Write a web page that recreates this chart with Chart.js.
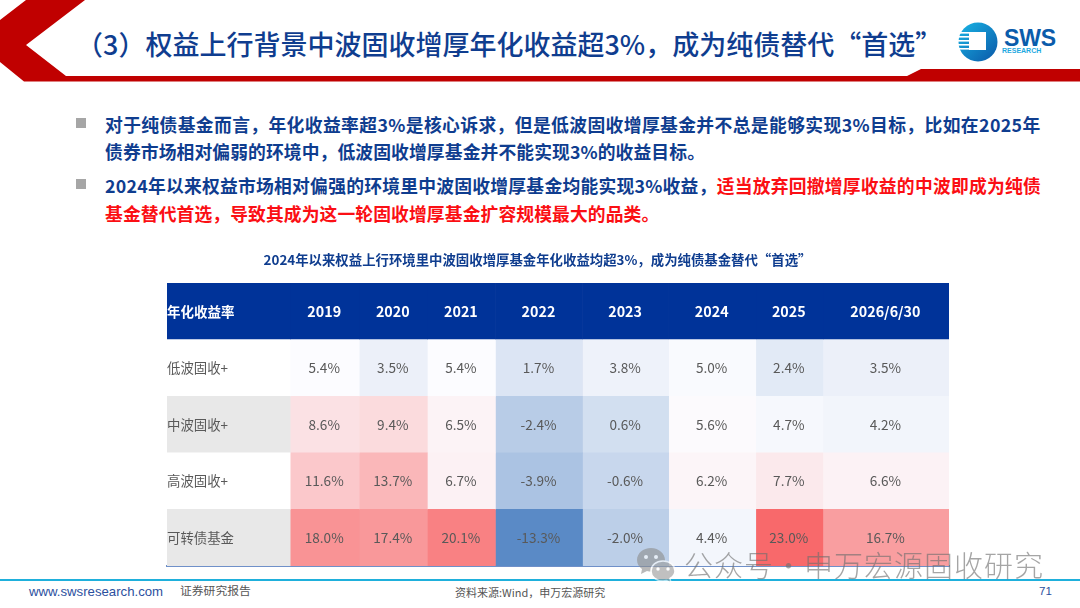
<!DOCTYPE html>
<html lang="zh-CN"><head><meta charset="utf-8">
<script src="https://cdn.jsdelivr.net/npm/chart.js@4"></script>
<style>
html,body{margin:0;padding:0;background:#fff;width:1080px;height:608px;overflow:hidden;font-family:"Noto Sans CJK SC","Noto Sans",sans-serif}
.abs{position:absolute;white-space:nowrap}
#chartWrap{position:absolute;left:0;top:245px;width:1080px;height:326px}
.body{left:105px;font-size:17.800px;font-weight:700;color:#0f3d8f;line-height:26px;letter-spacing:.1px}
.red{color:#fb0f14}
.sq{position:absolute;left:76px;width:10px;height:10px;background:#a6a6a6}
</style></head><body>
<svg class="abs" style="left:0;top:0" width="1080" height="90" viewBox="0 0 1080 90">
<polygon fill="#c00000" points="26,0 85,0 26,45 66,76 907,76 921,69 1080,69 1080,81.500 24,81.500 0,62 0,20"/>
</svg>
<div class="abs" id="mainTitle" style="left:76px;top:25px;font-size:27px;line-height:38px;color:#0f3d8f;font-weight:500">（3）权益上行背景中波固收增厚年化收益超3%，成为纯债替代“首选”</div>
<svg class="abs" style="left:957px;top:21px" width="42" height="42" viewBox="0 0 42 42">
<defs><linearGradient id="g" x1="0" y1="0" x2="1" y2="1"><stop offset="0" stop-color="#19b5e5"/><stop offset="1" stop-color="#0a57a8"/></linearGradient></defs>
<circle cx="21" cy="21" r="19.500" fill="url(#g)"/>
<g fill="#fff"><rect x="0" y="11" width="14" height="1.600"/><rect x="0" y="15" width="14" height="1.600"/><rect x="0" y="19" width="14" height="1.600"/><rect x="0" y="23" width="14" height="1.600"/><rect x="0" y="27" width="14" height="1.600"/><rect x="12" y="11" width="17" height="18"/></g>
</svg>
<div class="abs" style="left:1004px;top:24px;font:700 23px/28px 'Liberation Sans';color:#0b5cab;letter-spacing:-.2px">SWS</div>
<div class="abs" style="left:1002px;top:46px;font:700 7px/9px 'Liberation Sans';color:#1fa9df">RESEARCH</div>

<div class="sq" style="top:118px"></div>
<div class="sq" style="top:178.500px"></div>
<div class="abs body" style="top:111px;letter-spacing:.38px">对于纯债基金而言，年化收益率超3%是核心诉求，但是低波固收增厚基金并不总是能够实现3%目标，比如在2025年</div>
<div class="abs body" style="top:138px">债券市场相对偏弱的环境中，低波固收增厚基金并不能实现3%的收益目标。</div>
<div class="abs body" style="top:172px;letter-spacing:.24px">2024年以来权益市场相对偏强的环境里中波固收增厚基金均能实现3%收益，<span class="red">适当放弃回撤增厚收益的中波即成为纯债</span></div>
<div class="abs body red" style="top:199.500px">基金替代首选，导致其成为这一轮固收增厚基金扩容规模最大的品类。</div>

<div id="chartWrap"><canvas id="c" width="1080" height="326"></canvas></div>

<div class="abs" style="left:0;top:578.500px;width:1080px;height:2px;background:#1fb0dc"></div>
<div class="abs" style="left:29px;top:583px;font:13.200px/17px 'Liberation Sans';color:#2b4f9e">www.swsresearch.com</div>
<div class="abs" style="left:180px;top:581px;font-size:11.800px;line-height:17px;color:#555">证券研究报告</div>
<div class="abs" style="left:455px;top:584px;font-size:11px;line-height:17px;color:#555">资料来源:Wind，申万宏源研究</div>
<div class="abs" style="left:1039px;top:583px;font:11.500px/17px 'Liberation Sans';color:#2b4f9e">71</div>

<svg class="abs" style="left:636px;top:546px;opacity:.62" width="42" height="38" viewBox="0 0 42 38">
<path fill="#8f8f8f" d="M15 2C7 2 1 7.500 1 14c0 4 2 7 5 9l-1 5 6-3c1.500.4 3 .6 4 .6C23 25.600 29 20 29 14S23 2 15 2z"/>
<path fill="#9a9a9a" stroke="#fff" stroke-width="1.500" d="M27 15c-7 0-12 4.500-12 10s5 10 12 10c1.200 0 2.500-.2 3.500-.5L35 37l-1-4.500c3-1.800 5-4.500 5-7.500 0-5.500-5-10-12-10z"/>
<circle cx="10" cy="11" r="2" fill="#fff"/><circle cx="20" cy="11" r="2" fill="#fff"/><circle cx="22" cy="23" r="1.700" fill="#fff"/><circle cx="32" cy="23" r="1.700" fill="#fff"/>
</svg>
<div class="abs" style="left:684px;top:543px;font-size:29px;line-height:42px;font-weight:300;letter-spacing:1px;color:rgba(110,110,110,.62)">公众号<span style="display:inline-block;width:30px;text-align:center">·</span>申万宏源固收研究</div>

<script>
// ---- data ----
const tableTitle = "2024年以来权益上行环境里中波固收增厚基金年化收益均超3%，成为纯债基金替代“首选”";
const cornerLabel = "年化收益率";
const periodLabels = ["2019","2020","2021","2022","2023","2024","2025","2026/6/30"];
const rowLabels = ["低波固收+","中波固收+","高波固收+","可转债基金"];
const lowVolFixedPlus  = [5.4, 3.5, 5.4, 1.7, 3.8, 5.0, 2.4, 3.5];
const midVolFixedPlus  = [8.6, 9.4, 6.5, -2.4, 0.6, 5.6, 4.7, 4.2];
const highVolFixedPlus = [11.6, 13.7, 6.7, -3.9, -0.6, 6.2, 7.7, 6.6];
const convertibleFunds = [18.0, 17.4, 20.1, -13.3, -2.0, 4.4, 23.0, 16.7];

// ---- layout: relative column widths of the table ----
const columnWidths = [123, 69, 68, 68, 87, 86, 87, 67, 126];

const rows = [lowVolFixedPlus, midVolFixedPlus, highVolFixedPlus, convertibleFunds];
const yCats = ["header", ...rowLabels];
const all = rows.flat().slice().sort((a,b)=>a-b);
const vMin = all[0], vMax = all[all.length-1];
const vMid = (all[all.length/2-1] + all[all.length/2]) / 2;
const LOW=[90,138,198], MID=[252,252,255], HIGH=[248,105,107];
function mix(a,b,t){return `rgb(${a.map((c,i)=>Math.round(c+(b[i]-c)*t)).join(",")})`;}
function heat(v){return v<=vMid ? mix(MID,LOW,(vMid-v)/(vMid-vMin)) : mix(MID,HIGH,(v-vMid)/(vMax-vMid));}

const HEADER="#003399", BAND="#e8e8e8";
let edge=0;
const datasets = columnWidths.map((w,col)=>{
  const span=[edge,edge+w]; edge+=w;
  return {
    label: col===0 ? cornerLabel : periodLabels[col-1],
    data: yCats.map(()=>span),
    grouped:false, barPercentage:1, categoryPercentage:1, borderWidth:0,
    backgroundColor: yCats.map((_,r)=>{
      if(r===0) return HEADER;
      if(col===0) return r%2===0 ? BAND : "#ffffff";
      return heat(rows[r-1][col-1]);
    })
  };
});

const cellText = {
  id:"cellText",
  afterDatasetsDraw(chart){
    const ctx=chart.ctx; ctx.save(); ctx.textBaseline="middle";
    chart.data.datasets.forEach((ds,col)=>{
      chart.getDatasetMeta(col).data.forEach((bar,r)=>{
        const p=bar.getCenterPoint();
        let txt, dy=0;
        if(r===0){ txt=ds.label; dy=.6; ctx.fillStyle="#ffffff"; ctx.font=(col===0?"700 13.5px":"700 14.3px")+' "Noto Sans CJK SC"'; }
        else if(col===0){ txt=rowLabels[r-1]; ctx.fillStyle="#595959"; ctx.font='400 13.4px "Noto Sans CJK SC"'; }
        else { txt=rows[r-1][col-1].toFixed(1)+"%"; ctx.fillStyle="#595959"; ctx.font='400 13.6px "Noto Sans CJK SC"'; }
        if(col===0){ ctx.textAlign="left"; ctx.fillText(txt,Math.min(bar.x,bar.base),p.y+dy); }
        else { ctx.textAlign="center"; ctx.fillText(txt,p.x-.5,p.y+dy); }
      });
    });
    ctx.restore();
  }
};

new Chart(document.getElementById("c"),{
  type:"bar",
  data:{labels:yCats,datasets},
  plugins:[cellText],
  options:{
    indexAxis:"y",responsive:false,animation:false,devicePixelRatio:1,
    layout:{padding:{left:126,right:131,top:0,bottom:5}},
    plugins:{
      legend:{display:false},tooltip:{enabled:false},
      title:{display:true,text:tableTitle,color:"#0f3d8f",align:"center",
        font:{family:'"Noto Sans CJK SC"',size:13.4,weight:"700"},padding:{top:7,bottom:15}}
    },
    scales:{
      y:{display:true,offset:true,grid:{display:false,drawTicks:false},border:{display:false},
        ticks:{display:false},afterFit(s){s.width=41;}},
      x:{type:"linear",min:0,max:edge,
        grid:{display:false,drawTicks:false},
        border:{display:true,color:"#6f90c9",width:2},
        ticks:{display:false}}
    }
  }
});
</script>
</body></html>
